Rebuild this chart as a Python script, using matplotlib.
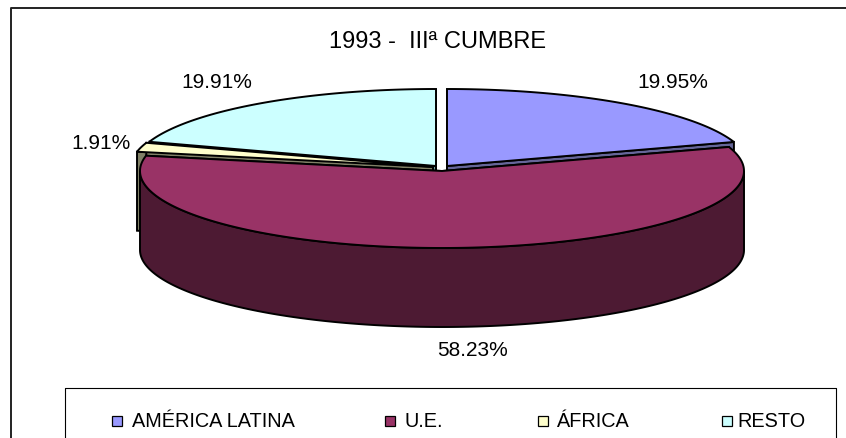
import numpy as np
import matplotlib
matplotlib.use("Agg")
import matplotlib.pyplot as plt

# --- data ---
categories = ["AMÉRICA LATINA", "U.E.", "ÁFRICA", "RESTO"]
shares = [19.95, 58.23, 1.91, 19.91]
share_labels = ["19.95%", "58.23%", "1.91%", "19.91%"]
title = "1993 -  IIIª CUMBRE"

# --- styles and layout (pixel coordinates of the 846x439 canvas) ---
top_colors = ["#9999FF", "#993366", "#FFFFCC", "#CCFFFF"]
side_colors = ["#666699", "#4D1A33", "#808066", "#669999"]
centers = [(447, 167), (442, 172), (433, 168), (436, 167)]
label_pos = [(673, 82), (473, 351), (101, 144), (217, 82)]
legend_marker_x = [116.5, 389.5, 542.5, 726.5]
legend_text_x = [132, 405, 556, 737]
RX, RY, DEPTH = 302, 77, 79
LW = 1.4
plt.rcParams["font.family"] = ["Liberation Sans", "DejaVu Sans"]

fig = plt.figure(figsize=(8.46, 4.39), dpi=100)
ax = fig.add_axes([0, 0, 1, 1])
ax.set_xlim(0, 846)
ax.set_ylim(439, 0)
ax.axis("off")


def arc(center, a0, a1):
    t = np.radians(np.linspace(a0, a1, 200))
    return center[0] + RX * np.sin(t), center[1] - RY * np.cos(t)


edges = np.concatenate([[0], np.cumsum(shares)]) / np.sum(shares) * 360


def draw_slice(i, z):
    a0, a1 = edges[i], edges[i + 1]
    c = centers[i]
    # radial walls
    for a in (a0, a1):
        x, y = arc(c, a, a)
        ax.fill([c[0], x[0], x[0], c[0]],
                [c[1], y[0], y[0] + DEPTH, c[1] + DEPTH],
                facecolor=side_colors[i], edgecolor="black", lw=LW, zorder=z)
    # outer rim
    lo, hi = max(a0, 90), min(a1, 270)
    if lo < hi:
        x, y = arc(c, lo, hi)
        ax.fill(np.r_[x, x[::-1]], np.r_[y, y[::-1] + DEPTH],
                facecolor=side_colors[i], edgecolor="black", lw=LW, zorder=z)
    # top face
    x, y = arc(c, a0, a1)
    ax.fill(np.r_[c[0], x], np.r_[c[1], y],
            facecolor=top_colors[i], edgecolor="black", lw=LW, zorder=z + 0.5,
            joinstyle="miter")


for z, i in enumerate([3, 0, 2, 1]):
    draw_slice(i, z + 2)

# outer frame (runs off the canvas at right and bottom)
ax.plot([10.5, 10.5, 900], [500, 9, 9], color="#222222", lw=1.4, zorder=1)
# legend box
ax.plot([65, 65, 836, 836], [500, 389, 389, 500], color="black", lw=0.8, zorder=1)

ax.text(438, 42, title, ha="center", va="center", fontsize=17)
for (x, y), s in zip(label_pos, share_labels):
    ax.text(x, y, s, ha="center", va="center", fontsize=15)

for mx, tx, name, col in zip(legend_marker_x, legend_text_x, categories, top_colors):
    ax.plot([mx], [422.5], marker="s", ms=7.4, mfc=col, mec="black", mew=0.9, ls="none")
    ax.text(tx, 422, name, ha="left", va="center", fontsize=14.3)

fig.savefig("out.png", dpi=100)
